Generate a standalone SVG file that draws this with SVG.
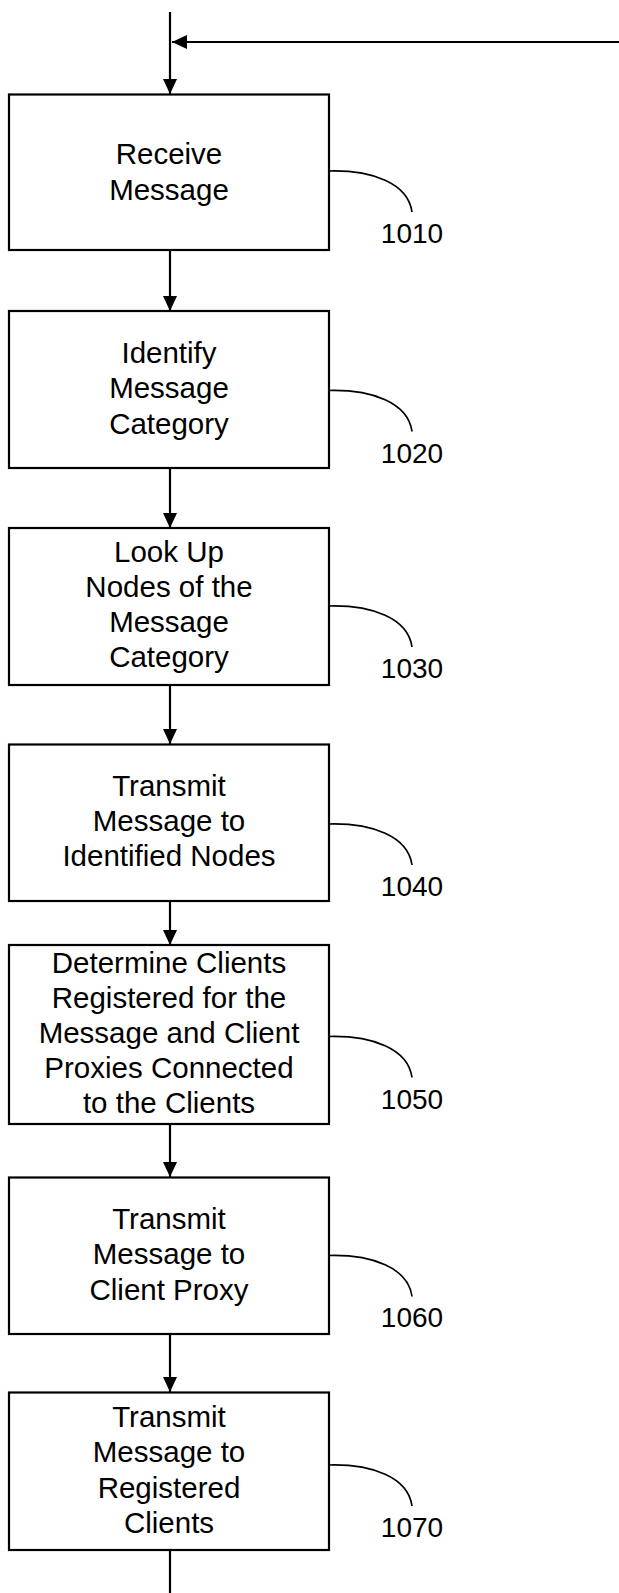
<svg xmlns="http://www.w3.org/2000/svg" width="619" height="1593" viewBox="0 0 619 1593">
<defs>
<marker id="ah" markerWidth="15" markerHeight="14" refX="15" refY="7" orient="auto" markerUnits="userSpaceOnUse">
<path d="M0,0 L15,7 L0,14 Z" fill="#000"/>
</marker>
<style>
.box{fill:#fff;stroke:#000;stroke-width:2.2}
.t{font-family:"Liberation Sans",Arial,sans-serif;font-size:29.5px;text-anchor:middle;fill:#000}
.n{font-family:"Liberation Sans",Arial,sans-serif;font-size:28px;text-anchor:middle;fill:#000}
.ln{stroke:#000;stroke-width:2.2;fill:none}
.cv{stroke:#000;stroke-width:1.7;fill:none}
</style>
</defs>
<rect width="619" height="1593" fill="#fff"/>
<g id="connectors">
<line class="ln" x1="619" y1="42" x2="172" y2="42" marker-end="url(#ah)"/>
<line class="ln" x1="170" y1="12" x2="170" y2="94" marker-end="url(#ah)"/>
<line class="ln" x1="170" y1="250" x2="170" y2="311" marker-end="url(#ah)"/>
<line class="ln" x1="170" y1="468" x2="170" y2="528" marker-end="url(#ah)"/>
<line class="ln" x1="170" y1="685" x2="170" y2="744" marker-end="url(#ah)"/>
<line class="ln" x1="170" y1="901" x2="170" y2="945" marker-end="url(#ah)"/>
<line class="ln" x1="170" y1="1124" x2="170" y2="1177" marker-end="url(#ah)"/>
<line class="ln" x1="170" y1="1334" x2="170" y2="1392" marker-end="url(#ah)"/>
<line class="ln" x1="170" y1="1550" x2="170" y2="1593"/>
</g>
<g id="n1010">
<rect class="box" x="9" y="94.5" width="320" height="155.5"/>
<text class="t"><tspan x="169" y="164">Receive</tspan><tspan x="169" y="200">Message</tspan></text>
<path class="cv" d="M329,171 C372,170 408,183 412,212"/>
<text class="n" x="412" y="243">1010</text>
</g>
<g id="n1020">
<rect class="box" x="9" y="311" width="320" height="157"/>
<text class="t"><tspan x="169" y="363">Identify</tspan><tspan x="169" y="398">Message</tspan><tspan x="169" y="434">Category</tspan></text>
<path class="cv" d="M329,390.5 C372,389.5 408,402.5 412,431.5"/>
<text class="n" x="412" y="462.5">1020</text>
</g>
<g id="n1030">
<rect class="box" x="9" y="528" width="320" height="157"/>
<text class="t"><tspan x="169" y="562">Look Up</tspan><tspan x="169" y="597">Nodes of the</tspan><tspan x="169" y="632">Message</tspan><tspan x="169" y="667">Category</tspan></text>
<path class="cv" d="M329,606 C372,605 408,618 412,647"/>
<text class="n" x="412" y="677.5">1030</text>
</g>
<g id="n1040">
<rect class="box" x="9" y="744.5" width="320" height="156.5"/>
<text class="t"><tspan x="169" y="796">Transmit</tspan><tspan x="169" y="831">Message to</tspan><tspan x="169" y="866">Identified Nodes</tspan></text>
<path class="cv" d="M329,824 C372,823 408,836 412,865"/>
<text class="n" x="412" y="896">1040</text>
</g>
<g id="n1050">
<rect class="box" x="9" y="945" width="320" height="179"/>
<text class="t"><tspan x="169" y="973">Determine Clients</tspan><tspan x="169" y="1008">Registered for the</tspan><tspan x="169" y="1043">Message and Client</tspan><tspan x="169" y="1078">Proxies Connected</tspan><tspan x="169" y="1113">to the Clients</tspan></text>
<path class="cv" d="M329,1036.5 C372,1035.5 408,1048.5 412,1077.5"/>
<text class="n" x="412" y="1109">1050</text>
</g>
<g id="n1060">
<rect class="box" x="9" y="1177.5" width="320" height="156.5"/>
<text class="t"><tspan x="169" y="1229">Transmit</tspan><tspan x="169" y="1264">Message to</tspan><tspan x="169" y="1300">Client Proxy</tspan></text>
<path class="cv" d="M329,1255.5 C372,1254.5 408,1267.5 412,1296.5"/>
<text class="n" x="412" y="1327">1060</text>
</g>
<g id="n1070">
<rect class="box" x="9" y="1392.5" width="320" height="157.5"/>
<text class="t"><tspan x="169" y="1427">Transmit</tspan><tspan x="169" y="1462">Message to</tspan><tspan x="169" y="1498">Registered</tspan><tspan x="169" y="1533">Clients</tspan></text>
<path class="cv" d="M329,1465 C372,1464 408,1477 412,1506"/>
<text class="n" x="412" y="1537">1070</text>
</g>
</svg>
